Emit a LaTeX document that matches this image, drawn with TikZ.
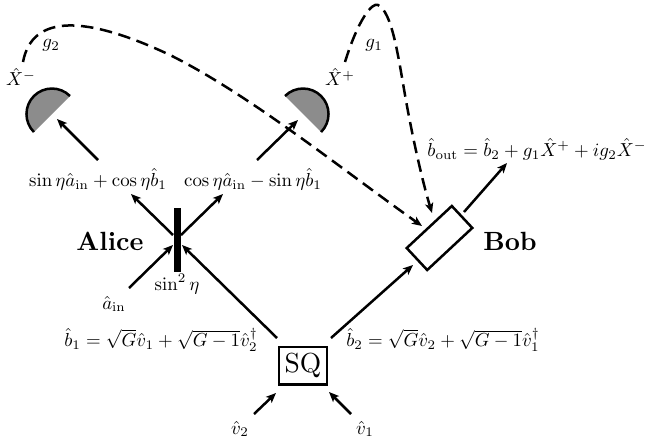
\documentclass[tikz,border=0pt]{standalone}
\usetikzlibrary{arrows.meta}
\tikzset{
  beam/.style={line width=1.5pt,-{Stealth[length=6pt,width=5pt,inset=1.5pt]}},
  feed/.style={line width=1.5pt,dash pattern=on 7.5pt off 4pt,-{Stealth[length=6pt,width=5pt,inset=1.5pt]}},
  lab/.style={inner sep=0pt,text=black,scale=1.13},
  dome/.style={fill=black!45,draw=none},
  rim/.style={line width=1.5pt},
  bigbold/.style={inner sep=0pt,scale=1.58,font=\bfseries},
}
\begin{document}
\begin{tikzpicture}[x=0.6pt,y=-0.6pt]
\useasboundingbox (0,0) rectangle (647,443);
% detectors
\coordinate (dLa) at (70,96);
\coordinate (dRa) at (285,96);
\fill[dome] (dLa) arc[start angle=315,end angle=135,radius=25.5] -- cycle;
\draw[rim] (dLa) arc[start angle=315,end angle=135,radius=25.5];
\fill[dome] (dRa) arc[start angle=225,end angle=405,radius=25.5] -- cycle;
\draw[rim] (dRa) arc[start angle=225,end angle=405,radius=25.5];
% elements
\node[draw,line width=1.5pt,minimum width=29pt,minimum height=22.5pt,inner sep=0pt] (sq) at (303,365.5) {\scalebox{1.65}{SQ}};
\node[fill=black,minimum width=4.2pt,minimum height=38.5pt,inner sep=0pt] (bs) at (177.5,240) {};
\node[draw,fill=white,line width=1.5pt,minimum width=37pt,minimum height=18pt,inner sep=0pt,rotate=43] (bob) at (439.5,238) {};
% labels
\node[lab] (xm) at (21,77) {$\hat X^-$};
\node[lab] (g2) at (51,45) {$g_2$};
\node[lab] (xp) at (340,77) {$\hat X^+$};
\node[lab] (g1) at (374,45) {$g_1$};
\node[lab] (lsin) at (98,179) {$\sin\eta\hat a_{\rm in}+\cos\eta\hat b_1$};
\node[lab] (lcos) at (253,179) {$\cos\eta\hat a_{\rm in}-\sin\eta\hat b_1$};
\node[lab,scale=1.0] (lout) at (537,149) {$\hat b_{\rm out}=\hat b_2+g_1\hat X^+ +ig_2\hat X^-$};
\node[bigbold] (alice) at (110,241) {Alice};
\node[bigbold] (bobl) at (510,241) {Bob};
\node[lab] (eta) at (177,284) {$\sin^2\eta$};
\node[lab] (ain) at (114,304) {$\hat a_{\rm in}$};
\node[lab] (b1) at (161,340) {$\hat b_1=\sqrt{G}\hat v_1+\sqrt{G-1}\hat v_2^\dagger$};
\node[lab] (b2) at (443,340) {$\hat b_2=\sqrt{G}\hat v_2+\sqrt{G-1}\hat v_1^\dagger$};
\node[lab] (v2) at (240,429) {$\hat v_2$};
\node[lab] (v1) at (365,429) {$\hat v_1$};
% connector ends
\coordinate (dLt) at (57,119);
\coordinate (dRt) at (298,120);
\coordinate (oLs) at (98,160);
\coordinate (oRs) at (257,160);
\coordinate (bsUL) at (173,235);
\coordinate (bsUR) at (181,235);
\coordinate (uL) at (131,194);
\coordinate (uR) at (223,194);
\coordinate (ainS) at (129,288);
\coordinate (bsIL) at (173,245);
\coordinate (bsIR) at (182,245);
\coordinate (sqUL) at (277,338);
\coordinate (sqUR) at (331,338);
\coordinate (sqLL) at (276,393);
\coordinate (sqLR) at (329,392);
\coordinate (v2s) at (254,414);
\coordinate (v1s) at (351,414);
\coordinate (bobIn) at (413,265);
\coordinate (bobOut) at (464,212);
\coordinate (outT) at (507,163);
\coordinate (fb2s) at (23,62);
\coordinate (fb2t) at (422,226);
\coordinate (fb1s) at (345,62);
\coordinate (fb1t) at (432,213);
% connectors
\draw[beam] (oLs) -- (dLt);
\draw[beam] (oRs) -- (dRt);
\draw[beam] (bsUL) -- (uL);
\draw[beam] (bsUR) -- (uR);
\draw[beam] (ainS) -- (bsIL);
\draw[beam] (sqUL) -- (bsIR);
\draw[beam] (sqUR) -- (bobIn);
\draw[beam] (v2s) -- (sqLL);
\draw[beam] (v1s) -- (sqLR);
\draw[beam] (bobOut) -- (outT);
\draw[feed] (fb2s) .. controls (32,14) and (85,15) .. (170,55) .. controls (250,95) and (340,168) .. (fb2t);
\draw[feed] (fb1s) .. controls (358,20) and (372,2) .. (378,5) .. controls (392,12) and (398,55) .. (405,95) .. controls (412,135) and (422,180) .. (fb1t);
\end{tikzpicture}
\end{document}
